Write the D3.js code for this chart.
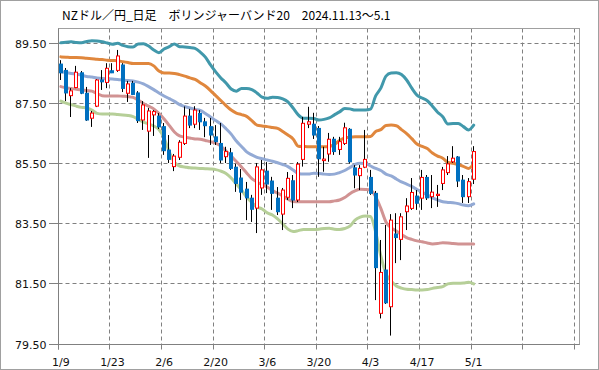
<!DOCTYPE html>
<html><head><meta charset="utf-8">
<script src="https://cdn.jsdelivr.net/npm/d3@7"></script>
<style>body{margin:0;background:#fff}svg{display:block}</style>
</head><body><svg id="c" width="599" height="370"></svg>
<script>
const title = "NZドル／円_日足　ボリンジャーバンド20　2024.11.13～5.1";
const dates = ["1/9","1/10","1/13","1/14","1/15","1/16","1/17","1/20","1/21","1/22",
 "1/23","1/24","1/27","1/28","1/29","1/30","1/31","2/3","2/4","2/5",
 "2/6","2/7","2/10","2/11","2/12","2/13","2/14","2/17","2/18","2/19",
 "2/20","2/21","2/24","2/25","2/26","2/27","2/28","3/3","3/4","3/5",
 "3/6","3/7","3/10","3/11","3/12","3/13","3/14","3/17","3/18","3/19",
 "3/20","3/21","3/24","3/25","3/26","3/27","3/28","3/31","4/1","4/2",
 "4/3","4/4","4/7","4/8","4/9","4/10","4/11","4/14","4/15","4/16",
 "4/17","4/18","4/21","4/22","4/23","4/24","4/25","4/28","4/29","4/30","5/1"];
const tickLabels = ["1/9","1/23","2/6","2/20","3/6","3/20","4/3","4/17","5/1"];
const yTicks = [79.5, 81.5, 83.5, 85.5, 87.5, 89.5];

const opens = [88.81,88.60,87.76,88.03,88.52,87.84,87.01,87.41,88.28,88.20,
 88.59,88.60,88.78,87.84,88.17,87.85,86.95,86.58,87.12,87.08,
 86.73,85.95,85.40,85.71,86.17,87.08,86.81,87.17,86.89,86.73,
 86.39,86.17,85.73,85.86,85.38,85.02,84.65,84.35,84.02,84.69,
 85.25,84.92,84.35,83.82,84.38,84.93,84.29,85.64,86.81,86.81,
 86.67,85.60,85.82,86.31,85.97,86.17,86.64,85.36,85.10,85.38,
 85.04,84.51,80.52,81.96,80.74,83.16,82.98,83.90,84.01,84.42,
 84.35,85.04,84.40,84.44,84.84,85.20,85.56,85.72,84.95,84.40,84.98];
const highs = [88.94,88.68,88.01,88.75,88.58,88.05,87.25,88.31,88.61,88.84,
 88.84,89.28,88.84,88.25,88.25,87.91,87.58,87.35,87.28,87.18,
 86.85,86.45,85.82,86.28,87.40,87.32,87.41,87.28,87.02,87.02,
 86.78,86.85,86.06,86.02,85.49,85.32,84.89,84.46,85.52,85.62,
 85.55,85.06,84.72,84.69,85.22,85.12,85.55,87.05,87.39,87.19,
 86.75,86.06,86.52,86.39,86.39,86.86,86.68,85.45,85.45,86.62,
 85.29,84.59,82.96,83.46,83.82,83.85,83.85,84.35,85.02,84.62,
 85.29,85.12,85.12,84.79,85.39,85.75,86.08,85.75,85.12,85.02,86.08];
const lows = [88.28,87.58,87.05,88.01,87.81,86.92,86.72,87.38,87.95,88.01,
 88.51,88.55,87.88,87.55,87.78,86.85,86.62,85.69,86.42,86.65,
 85.79,85.52,85.25,85.62,86.12,86.68,86.68,86.62,86.38,86.12,
 86.12,85.52,85.52,85.29,84.56,84.29,83.62,83.56,83.19,84.46,
 84.52,83.96,83.79,83.29,84.29,84.02,84.22,85.40,86.68,86.32,
 85.06,85.23,85.56,85.79,85.79,86.12,85.50,84.68,84.62,85.35,
 84.46,80.96,80.35,80.83,79.78,82.19,82.29,83.29,83.96,83.96,
 83.96,84.29,84.02,84.06,84.62,85.12,85.52,84.72,84.19,84.19,84.82];
const closes = [88.52,87.85,87.92,88.54,87.84,86.95,87.18,88.28,88.22,88.67,
 88.52,89.08,88.00,88.15,87.80,86.93,87.45,87.25,87.23,86.72,
 85.93,85.64,85.75,86.21,87.08,86.78,87.28,86.89,86.76,86.45,
 86.23,85.62,85.90,85.34,84.84,84.55,84.36,83.98,85.39,85.29,
 84.82,84.51,83.90,84.62,85.01,84.29,85.48,86.84,86.89,86.45,
 85.66,85.65,86.31,85.90,86.23,86.69,85.56,85.12,85.34,85.64,
 84.51,82.04,81.88,80.87,83.62,83.04,83.73,84.09,84.54,84.18,
 85.04,84.36,84.55,84.48,85.29,85.49,85.68,84.92,84.40,84.90,85.90];

const upper2 = [89.52,89.54,89.55,89.53,89.52,89.56,89.59,89.58,89.55,89.51,
 89.47,89.50,89.43,89.39,89.38,89.48,89.49,89.41,89.28,89.19,
 89.31,89.39,89.48,89.39,89.38,89.36,89.33,89.21,89.04,88.78,
 88.55,88.35,88.18,87.98,87.91,88.00,88.00,87.96,87.85,87.71,
 87.67,87.71,87.70,87.65,87.55,87.35,87.12,87.01,87.01,87.00,
 86.95,86.97,87.02,87.12,87.22,87.33,87.32,87.28,87.28,87.28,
 87.31,87.75,88.01,88.41,88.51,88.52,88.46,88.28,88.01,87.78,
 87.68,87.59,87.41,87.21,87.06,86.82,86.83,86.83,86.73,86.62,86.78];
const upper1 = [89.05,89.04,89.03,89.03,89.02,89.00,88.99,88.97,88.96,88.94,
 88.93,88.92,88.89,88.86,88.83,88.83,88.83,88.83,88.75,88.58,
 88.51,88.51,88.50,88.46,88.41,88.35,88.30,88.19,88.08,87.93,
 87.76,87.60,87.43,87.28,87.18,87.13,87.07,86.93,86.78,86.75,
 86.73,86.70,86.67,86.57,86.45,86.32,86.08,86.07,86.06,86.06,
 86.06,86.06,86.07,86.13,86.27,86.35,86.38,86.39,86.39,86.39,
 86.40,86.57,86.63,86.77,86.78,86.76,86.63,86.50,86.33,86.15,
 86.07,86.00,85.85,85.75,85.68,85.54,85.51,85.47,85.41,85.34,85.49];
const middle = [88.56,88.53,88.50,88.47,88.44,88.40,88.38,88.35,88.33,88.32,
 88.31,88.30,88.28,88.26,88.25,88.21,88.15,88.06,87.96,87.85,
 87.75,87.66,87.57,87.46,87.40,87.35,87.30,87.27,87.17,87.05,
 86.93,86.82,86.66,86.48,86.25,86.07,85.89,85.79,85.71,85.66,
 85.62,85.58,85.53,85.47,85.40,85.29,85.17,85.15,85.15,85.18,
 85.17,85.15,85.14,85.15,85.20,85.27,85.37,85.47,85.51,85.50,
 85.42,85.34,85.27,85.15,85.09,84.99,84.89,84.82,84.74,84.64,
 84.55,84.46,84.36,84.29,84.23,84.21,84.20,84.17,84.12,84.10,84.16];
const lower1 = [88.06,88.02,88.00,87.97,87.95,87.93,87.91,87.83,87.76,87.75,
 87.75,87.75,87.74,87.73,87.70,87.61,87.50,87.41,87.32,87.17,
 86.98,86.77,86.55,86.42,86.38,86.35,86.32,86.31,86.27,86.23,
 86.18,86.08,85.92,85.75,85.57,85.39,85.19,85.00,84.89,84.80,
 84.72,84.60,84.52,84.42,84.32,84.24,84.23,84.23,84.23,84.23,
 84.23,84.23,84.23,84.26,84.29,84.37,84.50,84.59,84.65,84.64,
 84.62,84.40,84.01,83.56,83.36,83.26,83.14,83.04,82.98,82.93,
 82.90,82.86,82.83,82.84,82.87,82.86,82.84,82.83,82.83,82.83,82.83];
const lower2 = [87.58,87.51,87.46,87.41,87.37,87.35,87.28,87.17,87.15,87.15,
 87.15,87.13,87.12,87.10,87.06,86.97,86.88,86.82,86.75,86.63,
 86.35,85.89,85.55,85.42,85.39,85.36,85.35,85.34,85.33,85.32,
 85.30,85.25,85.17,85.02,84.82,84.62,84.39,84.21,84.06,83.99,
 83.86,83.79,83.66,83.49,83.32,83.24,83.27,83.31,83.31,83.31,
 83.32,83.34,83.35,83.32,83.31,83.34,83.42,83.62,83.72,83.76,
 83.74,83.22,82.43,81.83,81.60,81.43,81.36,81.32,81.31,81.30,
 81.30,81.31,81.35,81.38,81.41,81.50,81.52,81.52,81.53,81.55,81.50];

const bands = [
  {vals: upper2, color: "#4198ab"},
  {vals: upper1, color: "#e0873d"},
  {vals: middle, color: "#93aad5"},
  {vals: lower1, color: "#d19393"},
  {vals: lower2, color: "#b6cf98"}
];

const svg = d3.select("#c");
const slots = 101;
const x = d3.scaleLinear().domain([0, slots]).range([58.3, 579.5]);
const y = d3.scaleLinear().domain([79.5, 90]).range([344, 28.3]);
const L = 58.5, R = 579.5, T = 28.5, B = 344.5;
const crisp = v => Math.floor(v) + 0.5;

// outer frame
svg.append("rect").attr("x",0.5).attr("y",0.5).attr("width",598).attr("height",369)
  .attr("fill","#fff").attr("stroke","#a0a0a0");

// grid
const g = svg.append("g");
yTicks.filter(v => v > 79.5).forEach(v => {
  g.append("line").attr("x1",L).attr("x2",R).attr("y1",crisp(y(v))).attr("y2",crisp(y(v)))
   .attr("stroke","#808080").attr("stroke-dasharray","4,3");
});
d3.range(10, slots, 10).forEach(k => {
  g.append("line").attr("x1",crisp(x(k))).attr("x2",crisp(x(k))).attr("y1",T).attr("y2",B)
   .attr("stroke","#808080").attr("stroke-dasharray","4,3");
});

// plot frame
svg.append("rect").attr("x",L).attr("y",T).attr("width",R-L).attr("height",B-T)
  .attr("fill","none").attr("stroke","#a0a0a0");
svg.append("line").attr("x1",L).attr("x2",L).attr("y1",T).attr("y2",B+5).attr("stroke","#808080");
svg.append("line").attr("x1",L).attr("x2",R).attr("y1",B).attr("y2",B).attr("stroke","#808080");

// y ticks and labels
yTicks.forEach(v => {
  const yy = crisp(y(v));
  svg.append("line").attr("x1",49).attr("x2",L).attr("y1",yy).attr("y2",yy).attr("stroke","#808080");
  svg.append("text").attr("x",46.5).attr("y",yy+4).attr("text-anchor","end")
    .attr("font-family","DejaVu Sans").attr("font-size",11).attr("fill","#111")
    .text(d3.format(".2f")(v));
});

// x ticks and labels
d3.range(0, slots, 10).forEach(k => {
  const xx = crisp(x(k));
  svg.append("line").attr("x1",xx).attr("x2",xx).attr("y1",B).attr("y2",B+5).attr("stroke","#808080");
});
tickLabels.forEach(lab => {
  const i = dates.indexOf(lab);
  svg.append("text").attr("x",x(i+0.5)).attr("y",366).attr("text-anchor","middle")
    .attr("font-family","DejaVu Sans").attr("font-size",11).attr("fill","#111").text(lab);
});

// title
svg.append("text").attr("x",62).attr("y",20)
  .attr("font-family","'Noto Sans CJK JP', sans-serif").attr("font-size",12).attr("fill","#000")
  .text(title);

// bands
const line = d3.line().x((d,i) => x(i+0.5)).y(d => y(d)).curve(d3.curveMonotoneX);
bands.forEach(b => {
  svg.append("path").attr("d", line(b.vals)).attr("fill","none")
    .attr("stroke", b.color).attr("stroke-width",3).attr("stroke-linejoin","round").attr("stroke-linecap","round");
});

// candles
const cg = svg.append("g");
dates.forEach((d, i) => {
  const cx = x(i+0.5);
  const left = Math.round(cx - 2);
  const up = closes[i] >= opens[i];
  cg.append("line").attr("x1",left+1.5).attr("x2",left+1.5)
    .attr("y1",y(highs[i])).attr("y2",y(lows[i])).attr("stroke","#000").attr("stroke-width",1);
  const top = y(Math.max(opens[i], closes[i]));
  const bot = y(Math.min(opens[i], closes[i]));
  if (up) {
    cg.append("rect").attr("x",left+0.5).attr("y",top).attr("width",3).attr("height",Math.max(1,bot-top))
      .attr("fill","#fff").attr("stroke","#ff0000").attr("stroke-width",1);
  } else {
    cg.append("rect").attr("x",left).attr("y",top-0.5).attr("width",4).attr("height",Math.max(1,bot-top+1))
      .attr("fill","#0070c0");
  }
});
</script></body></html>
